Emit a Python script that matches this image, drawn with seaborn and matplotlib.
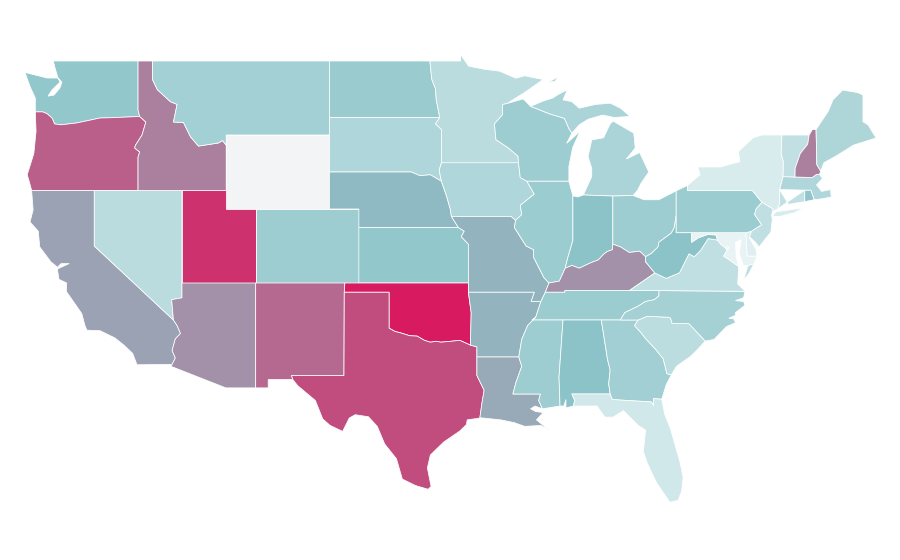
import matplotlib
matplotlib.use('Agg')
import matplotlib.pyplot as plt
import seaborn as sns

# shared borders, lon/lat
columbia = [(-124.0,46.25),(-123.5,46.25),(-123.2,46.15),(-122.85,45.9),(-122.7,45.6),(-122.25,45.55),(-121.2,45.65),(-120.6,45.75),(-119.6,45.92),(-119.0,45.93),(-116.92,46.0)]
snake = [(-116.92,46.0),(-116.5,45.7),(-116.76,45.0),(-117.2,44.45),(-117.26,44.3),(-116.92,44.08),(-117.03,43.8),(-117.03,42.0)]
id_mt = [(-116.05,49.0),(-116.05,48.0),(-115.72,47.45),(-114.83,46.8),(-114.38,46.65),(-114.63,45.7),(-113.95,45.68),(-113.47,44.9),(-112.93,44.4),(-111.57,44.57),(-111.3,44.7),(-111.05,44.45)]
colorado_nv = [(-114.05,37.0),(-114.05,36.2),(-114.75,36.1),(-114.63,35.0)]
colorado_ca = [(-114.63,35.0),(-114.38,34.7),(-114.15,34.27),(-114.5,33.98),(-114.72,33.35),(-114.5,32.95),(-114.72,32.6)]
rio_grande = [(-97.35,25.85),(-98.2,26.05),(-99.1,26.4),(-99.5,27.5),(-100.3,28.3),(-100.8,29.25),(-101.4,29.77),(-102.3,29.88),(-102.7,29.7),(-103.15,28.98),(-104.0,29.3),(-104.5,29.65),(-105.0,30.65),(-106.2,31.45),(-106.53,31.78),(-106.62,32.0)]
red_river = [(-100.0,34.56),(-99.6,34.38),(-99.2,34.3),(-98.6,34.15),(-98.1,34.13),(-97.6,33.9),(-97.2,33.8),(-96.8,33.85),(-96.5,33.8),(-95.8,33.85),(-95.2,33.9),(-94.48,33.64)]
sabine = [(-94.04,33.0),(-94.04,32.0),(-93.55,31.2),(-93.7,30.5),(-93.84,29.7)]
miss_ar = [(-89.7,36.0),(-90.05,35.15),(-90.6,34.7),(-91.0,33.95),(-91.2,33.0)]
miss_ms = [(-91.2,33.0),(-91.0,32.5),(-91.4,31.6),(-91.6,31.0)]
miss_tn = [(-90.05,35.15),(-89.7,36.0),(-89.4,36.5)]
miss_il = [(-89.15,37.0),(-89.5,37.3),(-90.2,38.4),(-90.2,38.8),(-90.7,39.0),(-91.5,40.0),(-91.42,40.38)]
miss_ia = [(-91.42,40.38),(-91.0,40.7),(-91.1,41.2),(-90.15,41.8),(-90.65,42.5)]
miss_wi = [(-90.65,42.5),(-91.1,42.7),(-91.22,43.5),(-91.25,43.85),(-91.9,44.3),(-92.75,44.75),(-92.85,45.6),(-92.3,46.1),(-92.3,46.65),(-92.0,46.7)]
missouri_ne = [(-96.45,42.5),(-96.1,41.7),(-95.85,41.0),(-95.77,40.6)]
missouri_ks = [(-95.3,40.0),(-94.9,39.8),(-95.1,39.5),(-94.62,39.1)]
big_sioux = [(-96.45,43.5),(-96.6,43.1),(-96.45,42.5)]
red_north = [(-97.23,49.0),(-97.1,48.0),(-96.85,47.5),(-96.8,46.9),(-96.56,45.94)]
sd_mn = [(-96.56,45.94),(-96.85,45.6),(-96.45,45.3),(-96.45,43.5)]
wi_mi = [(-90.4,46.55),(-89.1,46.14),(-88.1,45.9),(-87.8,45.35),(-87.6,45.1)]
ohio_il = [(-88.05,37.8),(-88.45,37.1),(-89.15,37.0)]
wabash = [(-87.53,39.3),(-87.9,38.3),(-88.05,37.8)]
ohio_in = [(-88.05,37.8),(-87.6,37.95),(-87.1,37.8),(-86.3,38.1),(-85.8,38.25),(-85.45,38.55),(-85.2,38.7),(-84.85,38.8),(-84.82,39.1)]
ohio_oh = [(-84.82,39.1),(-84.3,38.95),(-83.7,38.65),(-83.0,38.72),(-82.6,38.42)]
ohio_wv = [(-82.6,38.42),(-82.2,38.6),(-81.75,38.95),(-81.7,39.2),(-80.85,39.7),(-80.65,40.0),(-80.52,40.64)]
ky_wv = [(-82.6,38.42),(-82.6,38.15),(-81.97,37.54)]
va_wv = [(-81.97,37.54),(-81.2,37.25),(-80.3,37.55),(-79.65,38.58),(-79.3,38.42),(-78.87,38.76),(-78.35,39.4),(-77.72,39.32)]
potomac_wv = [(-77.72,39.32),(-77.83,39.6),(-78.4,39.62),(-79.0,39.45),(-79.48,39.2),(-79.48,39.72)]
potomac_va = [(-76.3,37.9),(-77.0,38.3),(-77.3,38.45),(-77.05,38.8),(-77.5,39.1),(-77.72,39.32)]
tn_nc = [(-81.68,36.59),(-81.7,36.3),(-82.0,36.1),(-82.6,36.0),(-83.1,35.75),(-84.0,35.4),(-84.32,35.0)]
nc_sc = [(-83.1,35.0),(-82.5,35.2),(-81.05,35.15),(-80.9,35.1),(-80.8,34.82),(-79.65,34.8),(-78.55,33.86)]
ga_sc = [(-83.1,35.0),(-83.35,34.7),(-83.0,34.4),(-82.6,34.0),(-81.9,33.4),(-81.4,32.9),(-81.15,32.1),(-80.85,32.03)]
al_ga = [(-85.6,35.0),(-85.18,32.87),(-85.0,32.3),(-85.1,31.55),(-85.0,31.0)]
ga_fl = [(-85.0,31.0),(-84.86,30.7),(-82.2,30.57),(-82.05,30.36),(-82.05,30.75),(-81.5,30.72)]
al_ms = [(-88.2,35.0),(-88.47,31.9),(-88.4,30.35)]
ms_la = [(-91.6,31.0),(-89.73,31.0),(-89.85,30.65),(-89.6,30.2)]
al_fl = [(-87.6,31.0),(-87.4,30.65),(-87.5,30.35)]
delaware_r = [(-74.7,41.36),(-75.1,41.0),(-75.2,40.7),(-74.72,40.15),(-75.4,39.8)]
ny_pa = [(-79.76,42.0),(-75.35,42.0),(-75.05,41.7),(-74.7,41.36)]
vt_nh = [(-71.5,45.0),(-71.6,44.5),(-72.1,44.0),(-72.45,43.2),(-72.46,42.73)]
ny_vt = [(-73.35,45.0),(-73.4,44.0),(-73.25,43.55),(-73.27,42.75)]
ny_ct = [(-73.5,42.05),(-73.5,41.3),(-73.65,41.0)]

# state outlines, lon/lat
outlines = {
    'WA': [(-122.78,49.0),(-117.03,49.0),(-117.03,46.35),(-116.92,46.0)] + columbia[::-1] + [(-124.0,47.0),(-124.35,47.6),(-124.7,48.38),(-123.2,48.08),(-122.46,48.08),(-122.33,47.86),(-122.87,47.43),(-123.14,47.1),(-122.73,47.16),(-122.33,47.54),(-122.19,47.86),(-122.46,48.08),(-122.66,48.62)],
    'OR': columbia + snake[1:] + [(-124.25,42.0),(-124.4,42.45),(-124.55,42.85),(-124.1,44.0),(-123.95,45.2)],
    'CA': [(-124.25,42.0),(-120.0,42.0),(-120.0,39.0),(-114.63,35.0)] + colorado_ca[1:] + [(-117.1,32.58),(-117.4,33.2),(-118.0,33.65),(-118.6,34.03),(-119.6,34.42),(-120.5,34.45),(-120.63,34.7),(-120.85,35.35),(-121.9,36.55),(-121.87,37.0),(-122.4,37.2),(-122.5,37.75),(-122.25,37.85),(-121.7,38.05),(-122.25,38.05),(-122.5,37.85),(-122.95,38.15),(-123.7,38.95),(-123.8,39.8),(-124.36,40.3),(-124.15,40.95)],
    'NV': [(-120.0,42.0),(-114.05,42.0)] + colorado_nv + [(-120.0,39.0)],
    'ID': [(-117.03,49.0)] + id_mt + [(-111.05,42.0)] + snake[::-1] + [(-117.03,46.35)],
    'MT': id_mt + [(-111.05,45.0),(-104.05,45.0),(-104.05,49.0)],
    'WY': [(-111.05,45.0),(-104.05,45.0),(-104.05,41.0),(-111.05,41.0)],
    'UT': [(-114.05,42.0),(-111.05,42.0),(-111.05,41.0),(-109.05,41.0),(-109.05,37.0),(-114.05,37.0)],
    'AZ': colorado_nv + colorado_ca[1:] + [(-114.81,32.5),(-111.07,31.33),(-109.05,31.33),(-109.05,37.0)],
    'CO': [(-109.05,41.0),(-102.05,41.0),(-102.05,37.0),(-109.05,37.0)],
    'NM': [(-109.05,37.0),(-103.0,37.0),(-103.04,36.5),(-103.06,32.0),(-106.62,32.0),(-106.53,31.78),(-108.2,31.78),(-108.2,31.33),(-109.05,31.33)],
    'ND': [(-104.05,49.0)] + red_north + [(-104.05,45.94)],
    'SD': [(-104.05,45.94)] + sd_mn + big_sioux[1:] + [(-97.2,42.85),(-97.9,42.8),(-98.5,43.0),(-104.05,43.0)],
    'NE': [(-104.05,43.0),(-98.5,43.0),(-97.9,42.8),(-97.2,42.85)] + missouri_ne + [(-95.3,40.0),(-102.05,40.0),(-102.05,41.0),(-104.05,41.0)],
    'KS': [(-102.05,40.0)] + missouri_ks + [(-94.62,37.0),(-102.05,37.0)],
    'OK': [(-103.0,37.0),(-94.62,37.0),(-94.62,36.5),(-94.43,35.4)] + red_river[::-1] + [(-100.0,36.5),(-103.04,36.5)],
    'TX': [(-106.62,32.0),(-103.06,32.0),(-103.04,36.5),(-100.0,36.5)] + red_river + [(-94.04,33.55)] + sabine + [(-94.7,29.6),(-94.75,29.35),(-95.2,29.0),(-96.3,28.4),(-97.2,27.7),(-97.4,27.0),(-97.15,26.0)] + rio_grande,
    'MN': [(-95.15,49.0),(-95.15,49.35),(-94.6,48.72),(-93.5,48.55),(-92.5,48.45),(-91.4,48.07),(-90.8,48.2),(-89.55,48.0),(-90.8,47.3)] + miss_wi[::-1] + [(-96.45,43.5)] + sd_mn[::-1] + red_north[::-1],
    'IA': [(-96.45,43.5),(-91.22,43.5),(-91.1,42.7)] + miss_ia[::-1] + [(-91.73,40.6),(-95.77,40.6)] + missouri_ne[::-1] + big_sioux[1::-1],
    'MO': [(-95.77,40.6),(-91.73,40.6)] + miss_il[::-1] + [(-89.4,36.5),(-89.7,36.0),(-90.37,36.0),(-90.15,36.5),(-94.62,36.5),(-94.62,39.1)] + missouri_ks[::-1],
    'AR': [(-94.62,36.5),(-90.15,36.5),(-90.37,36.0)] + miss_ar + [(-94.04,33.0),(-94.04,33.55),(-94.48,33.64),(-94.43,35.4)],
    'LA': [(-94.04,33.0)] + miss_ms + ms_la[1:] + [(-90.1,30.35),(-90.4,30.2),(-90.05,30.05),(-89.55,30.0),(-90.0,29.6),(-89.15,29.05),(-89.7,29.3),(-90.8,29.25),(-91.5,29.45),(-92.4,29.6),(-93.84,29.72)] + sabine[-2:0:-1],
    'WI': [(-92.0,46.7)] + miss_wi[::-1][1:] + [(-87.8,42.5),(-87.8,43.3),(-87.55,44.3),(-87.05,45.2),(-87.6,44.8),(-87.95,44.55)] + wi_mi[::-1] + [(-90.9,46.95)],
    'IL': miss_ia[::-1] + miss_il[::-1][1:] + ohio_il[::-1] + wabash[::-1][1:] + [(-87.53,41.71),(-87.8,42.5)],
    'MI1': wi_mi + [(-87.1,45.55),(-86.5,45.85),(-85.5,46.08),(-84.75,45.95),(-83.65,46.0),(-84.3,46.45),(-85.0,46.72),(-86.0,46.65),(-87.1,46.45),(-87.6,46.8),(-88.2,46.9),(-87.9,47.45),(-88.5,47.2),(-88.9,47.0),(-89.5,46.85)],
    'MI2': [(-86.82,41.76),(-86.25,42.75),(-86.25,43.2),(-86.5,43.83),(-86.25,44.73),(-85.45,44.85),(-85.0,45.6),(-84.8,45.75),(-83.4,45.1),(-83.3,44.3),(-83.9,43.7),(-83.0,44.05),(-82.38,43.0),(-82.9,42.4),(-83.15,42.0),(-83.45,41.73),(-84.82,41.7)],
    'MI3': [(-89.2,47.85),(-88.5,48.15),(-88.75,47.9)],
    'IN': [(-87.53,41.71),(-87.2,41.65),(-86.82,41.76),(-84.82,41.7)] + ohio_in[::-1] + wabash[::-1],
    'OH': [(-84.82,41.7),(-83.45,41.73),(-82.7,41.5),(-81.7,41.5),(-80.52,41.98)] + ohio_wv[::-1] + ohio_oh[::-1],
    'KY': [(-89.4,36.5),(-89.15,37.0)] + ohio_il[::-1][1:] + ohio_in[1:] + ohio_oh[1:] + ky_wv[1:] + [(-83.68,36.6),(-88.07,36.6),(-88.07,36.5)],
    'TN': [(-90.3,35.0)] + miss_tn + [(-88.07,36.5),(-88.07,36.6),(-83.68,36.6)] + tn_nc,
    'MS': [(-90.3,35.0)] + al_ms + [(-89.6,30.2)] + ms_la[::-1][1:] + miss_ms[::-1] + miss_ar[::-1][:-1],
    'AL': al_ms[:1] + al_ga + al_fl + [(-88.0,30.25),(-88.0,30.7),(-88.15,30.35)] + al_ms[:0:-1],
    'GA': [(-85.6,35.0)] + ga_sc + [(-81.2,31.5)] + ga_fl[::-1] + al_ga[-2::-1],
    'FL': al_fl[:1] + ga_fl + [(-81.3,29.9),(-80.9,29.1),(-80.26,27.3),(-80.05,26.5),(-80.15,25.75),(-80.4,25.25),(-80.95,25.15),(-81.85,26.2),(-82.5,27.3),(-82.75,27.9),(-82.6,29.05),(-83.1,29.3),(-84.1,30.1),(-84.8,29.75),(-85.35,29.75),(-85.9,30.35),(-87.5,30.35),(-87.4,30.65)],
    'SC': ga_sc + [(-80.5,32.5),(-79.6,33.0),(-79.2,33.3)] + nc_sc[::-1],
    'NC': tn_nc + [(-83.1,35.0)] + nc_sc[1:] + [(-77.95,33.95),(-77.1,34.65),(-76.5,34.85),(-76.6,35.05),(-76.95,35.1),(-76.5,35.25),(-76.5,35.4),(-75.85,35.8),(-75.95,36.0),(-76.5,36.05),(-75.95,36.2),(-75.85,36.55)],
    'VA': [(-83.68,36.6),(-81.68,36.59),(-75.85,36.55),(-76.35,36.95),(-76.3,37.55)] + potomac_va + va_wv[::-1],
    'VA2': [(-75.95,37.15),(-75.65,37.95),(-75.25,38.03),(-75.6,37.5)],
    'WV': [(-80.52,40.64),(-80.52,39.72),(-79.48,39.72)] + potomac_wv[::-1][1:] + va_wv[::-1] + ky_wv[::-1][1:] + ohio_wv[1:],
    'MD': [(-79.48,39.72),(-75.79,39.72),(-75.7,38.46),(-75.05,38.45),(-75.25,38.03),(-75.65,37.95),(-75.95,37.95),(-76.25,38.6),(-76.1,39.35),(-76.5,39.2),(-76.45,38.4),(-76.3,37.9)] + potomac_va[1:] + potomac_wv[1:-1],
    'DE': [(-75.79,39.72),(-75.4,39.8),(-75.55,39.45),(-75.1,38.8),(-75.05,38.45),(-75.7,38.46)],
    'DC': [(-77.12,38.93),(-77.04,39.0),(-76.91,38.89),(-77.04,38.79)],
    'PA': [(-80.52,41.98),(-79.76,42.27)] + ny_pa + delaware_r[1:] + [(-75.79,39.72),(-80.52,39.72)],
    'NY': [(-79.76,42.0),(-79.76,42.27),(-78.9,42.85),(-79.05,43.27),(-77.5,43.27),(-76.5,43.5),(-76.2,43.55),(-76.3,44.1),(-75.3,44.85),(-74.7,45.0)] + ny_vt + ny_ct + [(-73.9,40.9),(-74.0,40.75),(-73.95,41.0)] + ny_pa[::-1][:-1],
    'NY2': [(-74.0,40.6),(-73.75,40.85),(-72.6,40.98),(-71.9,41.05),(-72.5,40.8),(-73.5,40.6)],
    'NJ': [(-74.7,41.36),(-73.95,41.0),(-74.05,40.65),(-74.0,40.45),(-74.1,39.75),(-74.9,38.95),(-75.15,39.2),(-75.55,39.5)] + delaware_r[:0:-1],
    'CT': ny_ct[::-1] + [(-72.9,41.25),(-71.8,41.4),(-71.8,42.02)],
    'RI': [(-71.8,42.02),(-71.38,42.02),(-71.15,41.5),(-71.8,41.4)],
    'MA': [(-73.5,42.05),(-73.27,42.75),(-72.46,42.73),(-71.3,42.7),(-71.0,42.87),(-70.8,42.87),(-70.6,42.65),(-71.0,42.3),(-70.65,41.95),(-70.05,42.05),(-70.0,41.65),(-70.65,41.55),(-71.15,41.5),(-71.38,42.02),(-71.8,42.02)],
    'VT': ny_vt[:1] + vt_nh + ny_vt[:0:-1],
    'NH': vt_nh[::-1] + [(-71.28,45.3),(-71.03,45.3),(-70.98,43.4),(-70.72,43.05),(-70.8,42.87),(-71.0,42.87),(-71.3,42.7)],
    'ME': [(-71.03,45.3),(-70.22,46.26),(-69.88,46.9),(-69.23,47.43),(-68.2,47.29),(-67.85,47.16),(-67.85,45.72),(-67.5,45.54),(-66.96,44.84),(-68.5,44.45),(-69.6,43.9),(-70.5,43.5),(-70.72,43.05),(-70.98,43.4)],
}

# values: 0 palest, 50 teal, 100 crimson; WY has none
states = ['WA','OR','CA','NV','ID','MT','WY','UT','AZ','CO','NM','ND','SD','NE','KS','OK','TX','MN','IA','MO','AR','LA','WI','IL','MI','IN','OH','KY','TN','MS','AL','GA','FL','SC','NC','VA','WV','MD','DE','DC','PA','NY','NJ','CT','RI','MA','VT','NH','ME']
values = [46.6,80,60,25,70,37.7,None,93,65,41,77,43,31,53,46.6,100,85,25,31,55,55,58,41,42,33,50,41,65,42,41,50,39,13,24,36.6,22,50,1,5,0,42,8.6,22,21,48,31,21,70,32]
extra_parts = {'MI1': 'MI', 'MI2': 'MI', 'MI3': 'MI', 'VA2': 'VA', 'NY2': 'NY'}
no_data_colour = '#f3f4f6'

sns.set_theme(style='white')
cmap = sns.blend_palette(['#e8f4f5', '#8cc4c9', '#d81b60'], as_cmap=True)
lookup = dict(zip(states, values))

fig, ax = plt.subplots(figsize=(9, 5.6), dpi=100)
fig.subplots_adjust(left=0, right=1, top=1, bottom=0)

for code, pts in outlines.items():
    val = lookup[extra_parts.get(code, code)]
    colour = no_data_colour if val is None else cmap(val / 100)
    xs = [p[0] for p in pts]
    ys = [p[1] for p in pts]
    ax.fill(xs, ys, facecolor=colour, edgecolor='white', linewidth=0.55)

ax.set_xlim(-126.396, -65.337)
ax.set_ylim(22.027, 52.297)
ax.axis('off')
fig.savefig('out.png', dpi=100)
